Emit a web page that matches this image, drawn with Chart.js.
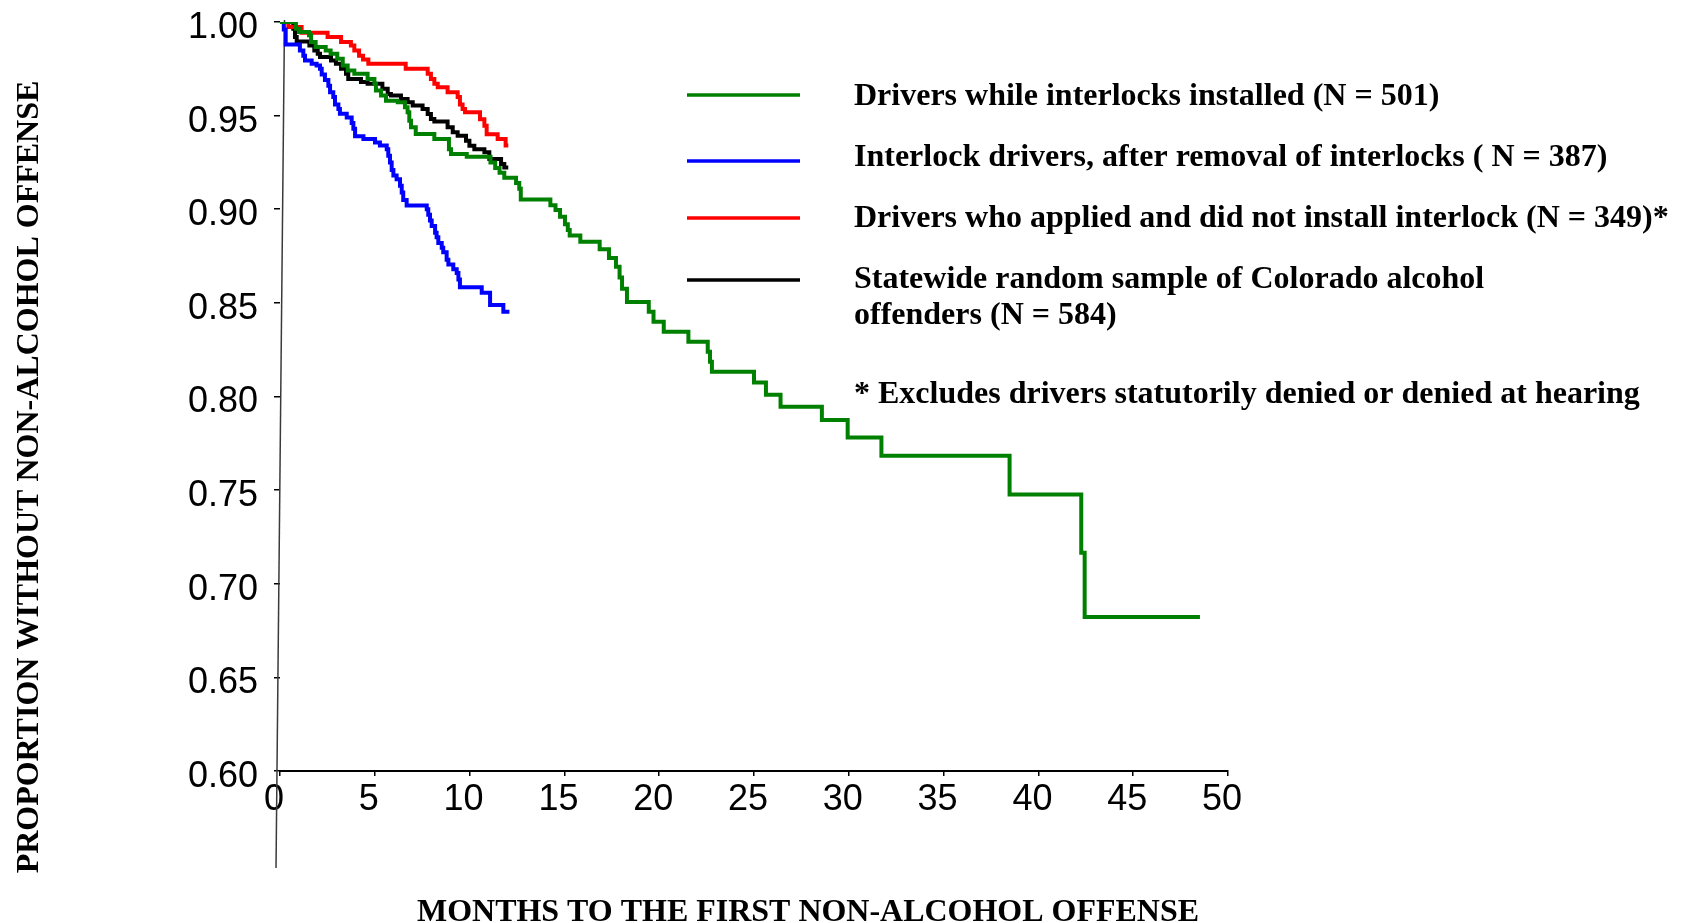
<!DOCTYPE html>
<html>
<head>
<meta charset="utf-8">
<script src="https://cdn.jsdelivr.net/npm/chart.js@4.4.1/dist/chart.umd.min.js"></script>
<style>
  html, body { margin: 0; padding: 0; background: #ffffff; overflow: hidden; }
  #wrap { width: 1691px; height: 923px; position: relative; }
</style>
</head>
<body>
<div id="wrap"><canvas id="c" width="1691" height="923"></canvas></div>
<script>
// ---------------- DATA ----------------
const X_TICKS = [0, 5, 10, 15, 20, 25, 30, 35, 40, 45, 50];
const X_TICK_LABELS = ['0', '5', '10', '15', '20', '25', '30', '35', '40', '45', '50'];
const Y_TICKS = [0.60, 0.65, 0.70, 0.75, 0.80, 0.85, 0.90, 0.95, 1.00];
const Y_TICK_LABELS = ['0.60', '0.65', '0.70', '0.75', '0.80', '0.85', '0.90', '0.95', '1.00'];

const X_TITLE = 'MONTHS TO THE FIRST NON-ALCOHOL OFFENSE';
const Y_TITLE = 'PROPORTION WITHOUT NON-ALCOHOL OFFENSE';

const SERIES_LABELS = [
  ['Drivers while interlocks installed (N = 501)'],
  ['Interlock drivers, after removal of interlocks ( N = 387)'],
  ['Drivers who applied and did not install interlock (N = 349)*'],
  ['Statewide random sample of Colorado alcohol', 'offenders (N = 584)']
];
const FOOTNOTE = '* Excludes drivers statutorily denied or denied at hearing';
const SERIES_COLORS = ['#008000', '#0000ff', '#ff0000', '#000000'];

// Drivers while interlocks installed
const greenMonths = [0, 0.84, 1.0, 1.53, 1.64, 1.88, 2.41, 2.67, 3.02, 3.31, 3.57, 3.92, 4.62, 4.98, 5.06,
  5.33, 5.59, 6.21, 6.59, 6.73, 6.82, 6.91, 7.16, 8.14, 8.91, 9.02, 9.85, 11.10, 11.35, 11.58,
  11.83, 12.45, 12.62, 12.70, 14.26, 14.53, 14.77, 15.03, 15.18, 15.28, 15.84, 16.86, 17.35, 17.72, 17.91,
  18.04, 18.30, 19.45, 19.70, 20.24, 21.54, 22.56, 22.68, 22.78, 25.0, 25.63, 26.40, 28.58, 29.94, 31.72,
  38.48, 42.26, 42.44, 48.52];
const greenSurv = [1.0, 0.9964, 0.9946, 0.9929, 0.9893, 0.9866, 0.9848, 0.983, 0.9804, 0.9768, 0.9741, 0.9723, 0.9696, 0.967, 0.9634,
  0.9607, 0.958, 0.9571, 0.9545, 0.9518, 0.9473, 0.9438, 0.9402, 0.9375, 0.9321, 0.9295, 0.928, 0.925, 0.922, 0.9195,
  0.9168, 0.914, 0.911, 0.9052, 0.9022, 0.8996, 0.896, 0.892, 0.8889, 0.886, 0.8826, 0.8786, 0.874, 0.8693, 0.8635,
  0.8575, 0.8505, 0.8452, 0.8399, 0.8346, 0.8292, 0.8239, 0.8185, 0.8132, 0.8075, 0.801, 0.7945, 0.7874, 0.7781, 0.7683,
  0.7477, 0.7165, 0.6823, 0.6823];

// Interlock drivers, after removal
const blueMonths = [0, 0.2, 0.3, 1.05, 1.23, 1.32, 1.67, 1.93, 2.11, 2.20, 2.37, 2.55, 2.64, 2.81, 2.90, 3.08, 3.16, 3.52,
  3.78, 3.87, 3.96, 4.40, 5.01, 5.27, 5.63, 5.71, 5.80, 5.89, 5.98, 6.15, 6.33, 6.42, 6.50, 6.68, 7.74, 7.82, 7.91, 8.00,
  8.18, 8.26, 8.35, 8.53, 8.61, 8.79, 8.88, 9.14, 9.32, 9.41, 9.49, 10.64, 11.08, 11.78, 12.10];
const blueSurv = [1.0, 0.996, 0.988, 0.9848, 0.982, 0.9795, 0.9777, 0.9768, 0.975, 0.972, 0.969, 0.966, 0.9625, 0.960, 0.956, 0.9536, 0.951, 0.949,
  0.946, 0.943, 0.939, 0.9375, 0.9357, 0.934, 0.932, 0.9286, 0.925, 0.921, 0.918, 0.916, 0.9125, 0.909, 0.905, 0.902, 0.900, 0.897, 0.894, 0.891,
  0.8875, 0.885, 0.882, 0.8795, 0.877, 0.873, 0.8705, 0.868, 0.866, 0.8625, 0.8583, 0.8554, 0.8488, 0.8452, 0.8452];

// Applied and did not install
const redMonths = [0, 0.44, 1.14, 2.51, 3.22, 3.74, 3.92, 4.17, 4.38, 4.66, 6.63, 7.79, 7.96, 8.14, 8.32,
  8.84, 9.37, 9.49, 9.63, 9.76, 10.55, 10.78, 10.90, 11.48, 11.90, 12.04];
const redSurv = [1.0, 0.9973, 0.9943, 0.992, 0.9893, 0.9875, 0.9848, 0.982, 0.980, 0.9777, 0.975, 0.9723, 0.9696, 0.967, 0.9652,
  0.9625, 0.960, 0.956, 0.9536, 0.9518, 0.948, 0.9446, 0.940, 0.9375, 0.934, 0.934];

// Statewide random sample
const blackMonths = [0, 0.70, 0.79, 0.88, 1.55, 1.81, 1.99, 2.11, 2.69, 2.95, 3.22, 3.48, 3.60, 4.27, 4.62,
  5.40, 5.68, 5.85, 6.38, 6.73, 7.00, 7.52, 7.79, 7.96, 8.14, 8.84, 9.11, 9.37, 9.81, 9.99,
  10.25, 10.78, 11.04, 11.66, 11.83, 12.04];
const blackSurv = [1.0, 0.9964, 0.992, 0.9896, 0.9875, 0.9848, 0.983, 0.9813, 0.9795, 0.9777, 0.975, 0.9723, 0.9696, 0.9679, 0.967,
  0.9643, 0.9616, 0.9607, 0.9589, 0.9571, 0.9554, 0.9536, 0.9509, 0.9482, 0.9468, 0.9438, 0.9411, 0.9393, 0.9366, 0.9339,
  0.9321, 0.9304, 0.9268, 0.9241, 0.9223, 0.9223];

// ---------------- CHART ----------------
const toPoints = (xs, ys) => xs.map((x, i) => ({ x: x, y: ys[i] }));
const SERIES = [
  toPoints(greenMonths, greenSurv),
  toPoints(blueMonths, blueSurv),
  toPoints(redMonths, redSurv),
  toPoints(blackMonths, blackSurv)
];

const SERIF = '"Liberation Serif", "Times New Roman", serif';
const SANS = '"Liberation Sans", Arial, Helvetica, sans-serif';

const decor = {
  id: 'decor',
  beforeDatasetsDraw(chart) {
    const { ctx, chartArea: ca, scales } = chart;
    const x0 = scales.x.getPixelForValue(0);
    ctx.save();
    ctx.strokeStyle = '#3a3a3a';
    ctx.lineWidth = 1.5;
    ctx.beginPath();
    ctx.moveTo(x0 + 4.5, ca.top - 2);
    ctx.lineTo(x0 - 4, ca.bottom + 97);
    ctx.stroke();
    ctx.restore();
  },
  afterDraw(chart) {
    const { ctx } = chart;
    ctx.save();
    ctx.fillStyle = '#000';
    ctx.font = 'bold 32px ' + SERIF;
    ctx.textBaseline = 'alphabetic';

    // axis titles
    ctx.textAlign = 'center';
    ctx.fillText(X_TITLE, 808, 921, 782);
    ctx.save();
    ctx.translate(38, 477);
    ctx.rotate(-Math.PI / 2);
    ctx.fillText(Y_TITLE, 0, 0, 794);
    ctx.restore();

    // legend
    const lineY = [95, 161, 218, 280];
    const textY = [104.5, 165.5, 226.5, 287.5];
    const lineGap = 36;
    ctx.textAlign = 'left';
    chart.data.datasets.forEach((ds, i) => {
      ctx.strokeStyle = ds.borderColor;
      ctx.lineWidth = 3.5;
      ctx.beginPath();
      ctx.moveTo(687, lineY[i]);
      ctx.lineTo(800, lineY[i]);
      ctx.stroke();
      SERIES_LABELS[i].forEach((t, j) => ctx.fillText(t, 854, textY[i] + j * lineGap));
    });
    ctx.fillText(FOOTNOTE, 854, 402.5);
    ctx.restore();
  }
};

new Chart(document.getElementById('c'), {
  type: 'line',
  data: {
    datasets: SERIES.map((pts, i) => ({
      label: SERIES_LABELS[i].join(' '),
      data: pts,
      borderColor: SERIES_COLORS[i],
      backgroundColor: SERIES_COLORS[i],
      borderWidth: 4,
      stepped: 'before',
      pointRadius: 0,
      fill: false,
      borderJoinStyle: 'miter',
      borderCapStyle: 'butt'
    }))
  },
  options: {
    responsive: false,
    animation: false,
    devicePixelRatio: 1,
    layout: { padding: { left: 0, top: 22, right: 463, bottom: 0 } },
    plugins: { legend: { display: false }, tooltip: { enabled: false } },
    scales: {
      x: {
        type: 'linear',
        min: 0,
        max: 50,
        afterBuildTicks: (s) => { s.ticks = X_TICKS.map(v => ({ value: v })); },
        afterFit: (s) => { s.height = 152; },
        border: { display: true, color: '#000', width: 2 },
        grid: { drawOnChartArea: false, drawTicks: true, tickLength: 5, color: '#000', lineWidth: 1.5 },
        ticks: {
          autoSkip: false,
          maxRotation: 0,
          padding: 2,
          labelOffset: -6,
          color: '#000',
          font: { family: SANS, size: 36, lineHeight: 1.2 },
          callback: (v, i) => X_TICK_LABELS[i]
        }
      },
      y: {
        type: 'linear',
        min: 0.6,
        max: 1.0,
        afterBuildTicks: (s) => { s.ticks = Y_TICKS.map(v => ({ value: v })); },
        afterFit: (s) => { s.width = 280; s.paddingTop = 0; s.paddingBottom = 0; },
        border: { display: false },
        grid: { drawOnChartArea: false, drawTicks: true, tickLength: 6, color: '#000', lineWidth: 1.5 },
        ticks: {
          autoSkip: false,
          padding: 16,
          labelOffset: 6,
          color: '#000',
          font: { family: SANS, size: 36 },
          callback: (v, i) => Y_TICK_LABELS[i]
        }
      }
    }
  },
  plugins: [decor]
});
</script>
</body>
</html>
